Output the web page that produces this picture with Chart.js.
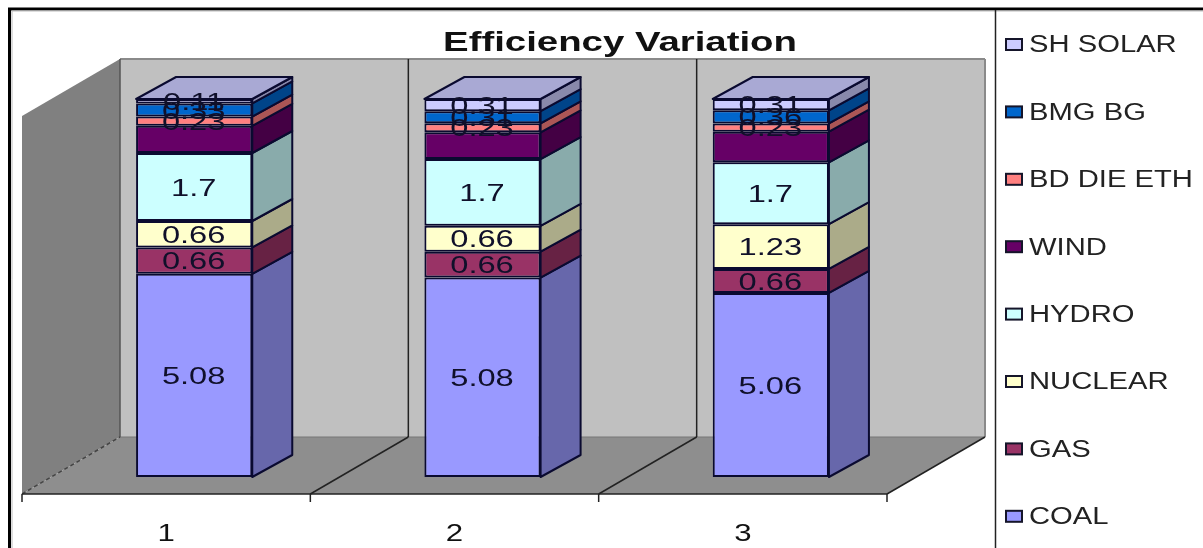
<!DOCTYPE html>
<html>
<head>
<meta charset="utf-8">
<title>Efficiency Variation</title>
<script src="https://cdn.jsdelivr.net/npm/chart.js@4"></script>
<style>
    html, body { margin: 0; padding: 0; background: #fff; }
    canvas { display: block; }
</style>
</head>
<body>
<canvas id="myChart" width="1203" height="548"></canvas>
<script>
// Data
const chartTitle = 'Efficiency Variation';
const categories = ['1', '2', '3'];

const coal = [5.08, 5.08, 5.06];
const gas = [0.66, 0.66, 0.66];
const nuclear = [0.66, 0.66, 1.23];
const hydro = [1.7, 1.7, 1.7];
const wind = [0.68, 0.68, 0.84];
const bdDieEth = [0.23, 0.23, 0.23];
const bmgBg = [0.33, 0.31, 0.36];
const shSolar = [0.11, 0.31, 0.31];

const SERIES = [
    { label: 'COAL', values: coal, color: '#9999FF' },
    { label: 'GAS', values: gas, color: '#993366' },
    { label: 'NUCLEAR', values: nuclear, color: '#FFFFCC' },
    { label: 'HYDRO', values: hydro, color: '#CCFFFF' },
    { label: 'WIND', values: wind, color: '#660066', hideValue: true },
    { label: 'BD DIE ETH', values: bdDieEth, color: '#FF8080' },
    { label: 'BMG BG', values: bmgBg, color: '#0066CC' },
    { label: 'SH SOLAR', values: shSolar, color: '#CCCCFF' },
];

// Layout of the fake 3D box
const BAR_DEPTH = { x: 40, y: -22 };
const FLOOR_DEPTH = { x: 98, y: -57 };
const BAR_INSET = { x: 28, y: -17 };
const FONT = '"Liberation Sans", Arial, sans-serif';

// Utils
function shade(hex, factor) {
    const n = parseInt(hex.slice(1), 16);
    const r = Math.round((n >> 16 & 255) * factor);
    const g = Math.round((n >> 8 & 255) * factor);
    const b = Math.round((n & 255) * factor);
    return `rgb(${r}, ${g}, ${b})`;
}

function polygon(ctx, points, fill, stroke, lineWidth) {
    ctx.beginPath();
    points.forEach((p, i) => i ? ctx.lineTo(p[0], p[1]) : ctx.moveTo(p[0], p[1]));
    ctx.closePath();
    if (fill) {
        ctx.fillStyle = fill;
        ctx.fill();
    }
    if (stroke) {
        ctx.strokeStyle = stroke;
        ctx.lineWidth = lineWidth || 1;
        ctx.stroke();
    }
}

function line(ctx, x1, y1, x2, y2, color, width, dash) {
    ctx.save();
    ctx.beginPath();
    ctx.setLineDash(dash || []);
    ctx.moveTo(x1, y1);
    ctx.lineTo(x2, y2);
    ctx.strokeStyle = color;
    ctx.lineWidth = width;
    ctx.stroke();
    ctx.restore();
}

// the text runs wider than the font does on its own
function wideText(ctx, text, x, y, font, stretch, align, color) {
    ctx.save();
    ctx.font = font;
    ctx.fillStyle = color || '#111';
    ctx.textAlign = align;
    ctx.textBaseline = 'middle';
    ctx.translate(x, y);
    ctx.scale(stretch, 1);
    ctx.fillText(text, 0, 0);
    ctx.restore();
}

// Walls and floor behind the bars
const boxPlugin = {
    id: 'box',
    beforeDatasetsDraw(chart) {
        const { ctx, scales: { x, y } } = chart;
        const frontLeft = x.left - BAR_INSET.x;
        const frontRight = x.right - BAR_INSET.x;
        const frontBottom = y.bottom - BAR_INSET.y;
        const frontTop = y.top - BAR_INSET.y;
        const backLeft = frontLeft + FLOOR_DEPTH.x;
        const backRight = frontRight + FLOOR_DEPTH.x;
        const backBottom = frontBottom + FLOOR_DEPTH.y;
        const backTop = frontTop + FLOOR_DEPTH.y;
        const step = (frontRight - frontLeft) / categories.length;

        ctx.save();
        // back wall
        polygon(ctx, [[backLeft, backTop], [backRight, backTop], [backRight, backBottom], [backLeft, backBottom]], '#C0C0C0');
        line(ctx, backLeft, backTop, backRight, backTop, '#8a8a8a', 2);
        line(ctx, backRight, backTop, backRight, backBottom, '#8a8a8a', 2);
        // left wall
        polygon(ctx, [[frontLeft, frontTop], [backLeft, backTop], [backLeft, backBottom], [frontLeft, frontBottom]], '#808080');
        // floor
        polygon(ctx, [[frontLeft, frontBottom], [backLeft, backBottom], [backRight, backBottom], [frontRight, frontBottom]], '#8E8E8E');
        line(ctx, backLeft, backBottom, backRight, backBottom, '#777', 1);

        line(ctx, backLeft, backTop, backLeft, backBottom, '#555', 1.5);
        line(ctx, frontLeft, frontBottom, backLeft, backBottom, '#444', 1.5, [4, 3]);

        // category separators on floor and back wall
        for (let i = 1; i <= categories.length; i++) {
            const fx = frontLeft + step * i;
            line(ctx, fx, frontBottom, fx + FLOOR_DEPTH.x, backBottom, '#222', 1.5);
            if (i < categories.length) {
                line(ctx, fx + FLOOR_DEPTH.x, backBottom, fx + FLOOR_DEPTH.x, backTop, '#222', 1.5);
            }
        }
        // axis line and ticks
        line(ctx, frontLeft, frontBottom, frontRight, frontBottom, '#222', 1.5);
        for (let i = 0; i <= categories.length; i++) {
            const fx = frontLeft + step * i;
            line(ctx, fx, frontBottom, fx, frontBottom + 8, '#222', 1.5);
        }
        ctx.restore();
    },
    // Side and top faces of each stack
    afterDatasetsDraw(chart) {
        const { ctx } = chart;
        const last = chart.data.datasets.length - 1;
        ctx.save();
        ctx.lineJoin = 'round';
        chart.data.datasets.forEach((dataset, d) => {
            chart.getDatasetMeta(d).data.forEach((bar) => {
                const { x, y, base, width } = bar.getProps(['x', 'y', 'base', 'width'], true);
                const right = x + width / 2;
                const left = x - width / 2;
                polygon(ctx, [
                    [right, y],
                    [right + BAR_DEPTH.x, y + BAR_DEPTH.y],
                    [right + BAR_DEPTH.x, base + BAR_DEPTH.y],
                    [right, base],
                ], shade(dataset.backgroundColor, 0.67), '#0a0a30', 2);
                if (d === last) {
                    polygon(ctx, [
                        [left, y],
                        [left + BAR_DEPTH.x, y + BAR_DEPTH.y],
                        [right + BAR_DEPTH.x, y + BAR_DEPTH.y],
                        [right, y],
                    ], shade(dataset.backgroundColor, 0.83), '#0a0a30', 2);
                }
            });
        });
        ctx.restore();
    },
};

// Title, value labels, category labels, legend and the frame
const textPlugin = {
    id: 'texts',
    afterDraw(chart) {
        const { ctx, scales: { x } } = chart;

        wideText(ctx, chartTitle, 620, 43, `bold 28px ${FONT}`, 1.37, 'center', '#111');

        SERIES.forEach((series, d) => {
            if (series.hideValue) return;
            chart.getDatasetMeta(d).data.forEach((bar, i) => {
                const { x: barX, y, base } = bar.getProps(['x', 'y', 'base'], true);
                wideText(ctx, String(series.values[i]), barX - 0.5, (y + base) / 2 + 2, `24px ${FONT}`, 1.36, 'center', '#10102a');
            });
        });

        categories.forEach((label, i) => {
            wideText(ctx, label, x.getPixelForTick(i) - BAR_INSET.x, 534, `24px ${FONT}`, 1.3, 'center', '#111');
        });

        // legend, top series first
        [...SERIES].reverse().forEach((series, i) => {
            const rowY = 45 + i * 67.4;
            ctx.fillStyle = series.color;
            ctx.strokeStyle = '#15152a';
            ctx.lineWidth = 2;
            ctx.fillRect(1006, rowY - 6, 16, 11);
            ctx.strokeRect(1006, rowY - 6, 16, 11);
            wideText(ctx, series.label, 1029, rowY + 1, `23px ${FONT}`, 1.27, 'left', '#222');
        });

        // outer frame and legend divider
        line(ctx, 8, 9, 1203, 9, '#000', 3);
        line(ctx, 9.5, 8, 9.5, 548, '#000', 3);
        line(ctx, 12, 11, 1203, 11, '#bbb', 1);
        line(ctx, 12, 11, 12, 548, '#bbb', 1);
        line(ctx, 995.5, 10, 995.5, 548, '#222', 1.5);
    },
};

// Setup
const datasets = SERIES.map((series) => ({
    label: series.label,
    // the stacks are drawn as a share of their total
    data: series.values.map((v, i) => v / SERIES.reduce((sum, s) => sum + s.values[i], 0) * 100),
    backgroundColor: series.color,
    borderColor: '#0a0a30',
    borderWidth: 2,
    borderSkipped: false,
    barPercentage: 0.403,
    categoryPercentage: 1,
}));

const config = {
    type: 'bar',
    data: { labels: categories, datasets: datasets },
    options: {
        responsive: false,
        animation: false,
        layout: { padding: { left: 50, right: 288, top: 99, bottom: 71 } },
        plugins: {
            legend: { display: false },
            title: { display: false },
            tooltip: { enabled: false },
        },
        scales: {
            x: { stacked: true, display: false },
            y: { stacked: true, display: false, min: 0, max: 100 },
        },
    },
    plugins: [boxPlugin, textPlugin],
};

const myChart = new Chart(document.getElementById('myChart'), config);
</script>
</body>
</html>
